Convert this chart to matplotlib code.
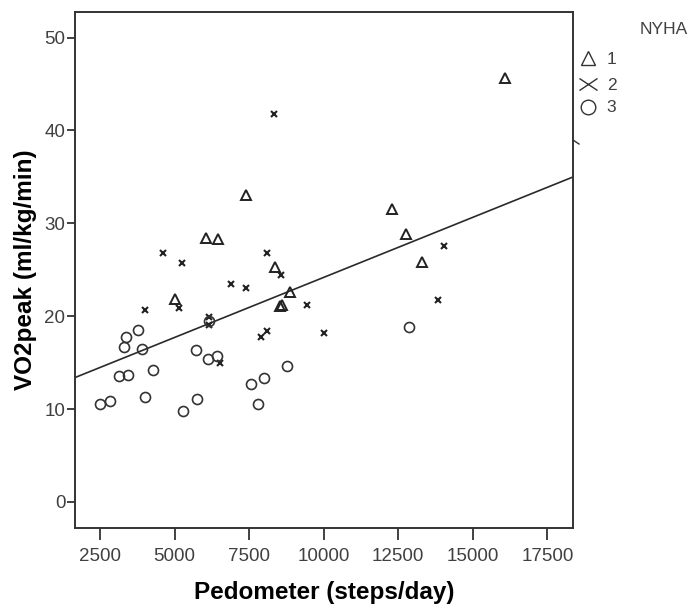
import matplotlib
matplotlib.use("Agg")
import matplotlib.pyplot as plt
import numpy as np
from matplotlib.path import Path
from matplotlib.lines import Line2D

# ---- data ----
nyha1_steps = [7390, 6045, 6470, 16090, 12280, 12750, 8380, 5025, 8860, 8550, 8610, 13285]
nyha1_vo2 = [33.0, 28.4, 28.3, 45.6, 31.5, 28.9, 25.3, 21.9, 22.6, 21.1, 21.2, 25.8]

nyha2_steps = [8345, 4600, 8090, 14035, 5260, 8580, 6880, 7390, 5140, 4020, 9430,
               6165, 6165, 8090, 7900, 6525, 13835, 10020]
nyha2_vo2 = [41.8, 26.8, 26.8, 27.6, 25.7, 24.4, 23.5, 23.0, 20.9, 20.7, 21.2,
             19.9, 19.1, 18.4, 17.8, 15.0, 21.7, 18.2]

nyha3_steps = [3760, 3360, 3305, 3895, 3145, 3450, 4275, 2500, 2845, 4020, 5285,
               5730, 6130, 6425, 5740, 7575, 7995, 7795, 8780, 12860, 6165]
nyha3_vo2 = [18.5, 17.8, 16.7, 16.5, 13.6, 13.7, 14.2, 10.6, 10.9, 11.3, 9.8,
             16.4, 15.4, 15.7, 11.1, 12.7, 13.4, 10.6, 14.6, 18.8, 19.5]

fit_intercept = 11.25
fit_slope = 0.001293

x_ticks = [2500, 5000, 7500, 10000, 12500, 15000, 17500]
y_ticks = [0, 10, 20, 30, 40, 50]
legend_labels = ["1", "2", "3"]
legend_title = "NYHA"
x_label = "Pedometer (steps/day)"
y_label = "VO2peak (ml/kg/min)"

# ---- figure ----
W, H = 691, 608
fig = plt.figure(figsize=(W / 100, H / 100), dpi=100)
plt.rcParams['font.family'] = ['Liberation Sans', 'DejaVu Sans']

ax = fig.add_axes([75 / W, 1 - 528 / H, (573 - 75) / W, (528 - 12) / H])
xlim = (1660, 18360)
ax.set_xlim(*xlim)
ax.set_ylim(-2.8, 52.75)

# fit line
xs = np.array(xlim)
ax.plot(xs, fit_intercept + fit_slope * xs, color='#2a2a2a', lw=1.2, zorder=2)

ax.plot(nyha1_steps, nyha1_vo2, linestyle='none', marker='^', ms=6.5,
        mfc='none', mec='#222222', mew=1.4, zorder=3)
ax.plot(nyha2_steps, nyha2_vo2, linestyle='none', marker='x', ms=4.5,
        mec='#222222', mew=1.5, zorder=3)
ax.plot(nyha3_steps, nyha3_vo2, linestyle='none', marker='o', ms=7.2,
        mfc='none', mec='#333333', mew=1.2, zorder=3)

ax.set_xticks(x_ticks)
ax.set_yticks(y_ticks)
ax.set_xticklabels([str(t) for t in x_ticks])
ax.set_yticklabels([str(t) for t in y_ticks])
ax.tick_params(axis='x', length=8.5, width=1.3, color='#333333', labelsize=13.5,
               labelcolor='#404040', pad=6)
ax.tick_params(axis='y', length=5.5, width=1.3, color='#333333', labelsize=13.5,
               labelcolor='#404040', pad=1.5)
for s in ax.spines.values():
    s.set_color('#333333')
    s.set_linewidth(1.4)

ax.set_xlabel(x_label, fontsize=17.5, fontweight='bold', color='black')
ax.set_ylabel(y_label, fontsize=17.5, fontweight='bold', color='black')
ax.xaxis.set_label_coords(0.5, (528 - 581) / (528 - 12), transform=ax.transAxes)
ax.yaxis.set_label_coords((37 - 75) / (573 - 75), 0.5, transform=ax.transAxes)

# ---- legend (manual, figure pixel coords) ----
def fx(px):
    return px / W

def fy(py):
    return 1 - py / H

fig.text(fx(664), fy(30), legend_title, ha='center', va='center', fontsize=12.5,
         color='#404040')
wide_x = Path([(-1.5, -1), (1.5, 1), (-1.5, 1), (1.5, -1)],
              [Path.MOVETO, Path.LINETO, Path.MOVETO, Path.LINETO])
leg_markers = [dict(marker='^', ms=9.5, mfc='none', mec='#333333', mew=1.0),
               dict(marker=wide_x, ms=13, mec='#333333', mew=1.0),
               dict(marker='o', ms=10.5, mfc='none', mec='#333333', mew=1.0)]
leg_y = [58, 84, 107]
for lab, mk, yy in zip(legend_labels, leg_markers, leg_y):
    fig.add_artist(Line2D([fx(588)], [fy(yy)], linestyle='none', **mk))
    fig.text(fx(611.5), fy(yy + 1), lab, ha='center', va='center', fontsize=12.5,
             color='#404040')

# small stroke outside the right spine
fig.add_artist(Line2D([fx(573), fx(579)], [fy(140), fy(144)], color='#333333', lw=1.0))

fig.savefig("out.png", dpi=100)
